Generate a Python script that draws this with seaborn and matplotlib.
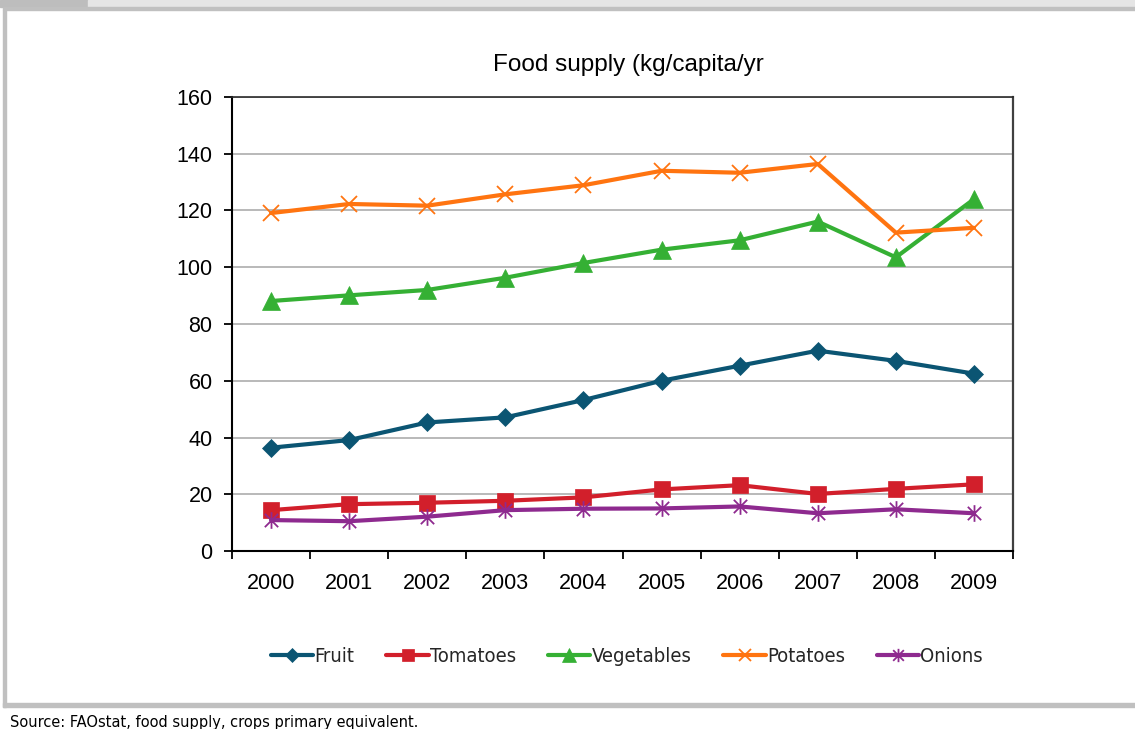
import matplotlib
matplotlib.use("Agg")
import matplotlib.pyplot as plt
from matplotlib.patches import Rectangle
from matplotlib.path import Path
from matplotlib.lines import Line2D
from matplotlib.ticker import FixedLocator
from matplotlib.font_manager import FontProperties
import seaborn as sns
import pandas as pd

# Food supply per person, kg/capita/yr
years = [2000, 2001, 2002, 2003, 2004, 2005, 2006, 2007, 2008, 2009]
fruit = [36.4, 39.1, 45.3, 47.1, 53.2, 60.0, 65.3, 70.6, 67.0, 62.5]
tomatoes = [14.4, 16.5, 17.0, 17.7, 18.9, 21.7, 23.2, 20.1, 21.9, 23.5]
vegetables = [88.1, 90.1, 92.0, 96.3, 101.5, 106.2, 109.5, 116.1, 103.5, 124.0]
potatoes = [119.1, 122.3, 121.7, 125.7, 128.9, 134.0, 133.3, 136.4, 112.2, 113.9]
onions = [10.9, 10.5, 12.1, 14.4, 14.9, 15.0, 15.7, 13.3, 14.7, 13.3]

series_names = ["Fruit", "Tomatoes", "Vegetables", "Potatoes", "Onions"]
y_ticks = [0, 20, 40, 60, 80, 100, 120, 140, 160]
title_text = "Food supply (kg/capita/yr"
source_text = "Source: FAOstat, food supply, crops primary equivalent."

df = pd.DataFrame({"year": years, "Fruit": fruit, "Tomatoes": tomatoes,
                   "Vegetables": vegetables, "Potatoes": potatoes,
                   "Onions": onions})
long_df = df.melt(id_vars="year", var_name="item", value_name="kg")

# asterisk marker: an x crossed by a vertical stroke
star_path = Path(
    [(-1, -1), (1, 1), (-1, 1), (1, -1), (0, -1.25), (0, 1.25)],
    [Path.MOVETO, Path.LINETO, Path.MOVETO, Path.LINETO, Path.MOVETO, Path.LINETO],
)

styles = {
    "Fruit": dict(color="#0b5573", marker="D", ms=9.5, mew=0.5),
    "Tomatoes": dict(color="#d21f2b", marker="s", ms=11.5, mew=0.5),
    "Vegetables": dict(color="#35b034", marker="^", ms=12.5, mew=0.5),
    "Potatoes": dict(color="#ff7410", marker="x", ms=11.5, mew=1.3),
    "Onions": dict(color="#8e2a8f", marker=star_path, ms=12, mew=1.3),
}

sns.set_theme(style="white")
plt.rcParams["font.family"] = ["Liberation Sans", "DejaVu Sans"]

narrow = FontProperties(family="DejaVu Sans", stretch="condensed", size=14.5)
narrow_small = FontProperties(family="DejaVu Sans", stretch="condensed", size=11.7)

fig = plt.figure(figsize=(11.35, 7.29), dpi=100)
fig.patch.set_facecolor("white")
ax = fig.add_axes([232 / 1135, 1 - 551 / 729, (1013 - 232) / 1135, (551 - 97) / 729])
ax.set_facecolor("white")

for name in series_names:
    st = styles[name]
    sub = long_df[long_df["item"] == name]
    sns.lineplot(data=sub, x="year", y="kg", ax=ax, color=st["color"],
                 linewidth=3.0, marker=st["marker"], markersize=st["ms"],
                 markeredgecolor=st["color"], markerfacecolor=st["color"],
                 markeredgewidth=st["mew"], label=name, legend=False,
                 zorder=3)

ax.set_xlim(years[0] - 0.5, years[-1] + 0.5)
ax.set_ylim(y_ticks[0], y_ticks[-1])
ax.set_yticks(y_ticks)
ax.set_xticks(years)
ax.set_xticklabels([str(y) for y in years])
ax.xaxis.set_minor_locator(FixedLocator([y - 0.5 for y in years] + [years[-1] + 0.5]))
ax.set_xlabel("")
ax.set_ylabel("")

ax.grid(axis="y", color="#b3b3b3", linewidth=1.3, zorder=0)
ax.grid(axis="x", visible=False)
ax.set_axisbelow(True)

ax.tick_params(axis="x", which="major", length=0, pad=16, labelsize=15.5, colors="black")
ax.tick_params(axis="x", which="minor", length=6, width=1.3, direction="out",
               color="black", bottom=True)
ax.tick_params(axis="y", which="major", length=6, width=1.3, direction="out",
               pad=8, labelsize=15.5, colors="black", left=True)

for side in ["left", "bottom"]:
    ax.spines[side].set_color("black")
    ax.spines[side].set_linewidth(1.5)
ax.spines["top"].set_color("#2a2a2a")
ax.spines["top"].set_linewidth(1.2)
ax.spines["right"].set_color("#404040")
ax.spines["right"].set_linewidth(1.6)
for s in ax.spines.values():
    s.set_visible(True)

fig.text(628 / 1135, 1 - 65 / 729, title_text, ha="center", va="center",
         fontsize=17.5, color="black")

handles = []
for name in series_names:
    st = styles[name]
    handles.append(Line2D([], [], color=st["color"], linewidth=3.0,
                          marker=st["marker"], markersize=st["ms"] * 0.8,
                          markeredgecolor=st["color"], markerfacecolor=st["color"],
                          markeredgewidth=st["mew"]))
fig.legend(handles, series_names, loc="center",
           bbox_to_anchor=(627 / 1135, 1 - 657 / 729), ncol=5, frameon=False,
           handlelength=2.1, handletextpad=0.05, columnspacing=1.6,
           prop=narrow)

# page furniture: header bar, frame lines and source note
gray = "#c0c0c0"
fig.patches.append(Rectangle((0, 1 - 7 / 729), 88 / 1135, 7 / 729,
                             transform=fig.transFigure, color="#bdbdbd", zorder=0))
fig.patches.append(Rectangle((88 / 1135, 1 - 7 / 729), 1 - 88 / 1135, 7 / 729,
                             transform=fig.transFigure, color="#e5e5e5", zorder=0))
fig.patches.append(Rectangle((3 / 1135, 1 - 10 / 729), 1, 3 / 729,
                             transform=fig.transFigure, color=gray, zorder=0))
fig.patches.append(Rectangle((3 / 1135, 1 - 707 / 729), 3 / 1135, 697 / 729,
                             transform=fig.transFigure, color=gray, zorder=0))
fig.patches.append(Rectangle((3 / 1135, 1 - 707 / 729), 1, 4 / 729,
                             transform=fig.transFigure, color=gray, zorder=0))
fig.text(10 / 1135, 1 - 722 / 729, source_text, ha="left", va="center",
         color="black", fontproperties=narrow_small)

fig.savefig("out.png", dpi=100, facecolor="white")
